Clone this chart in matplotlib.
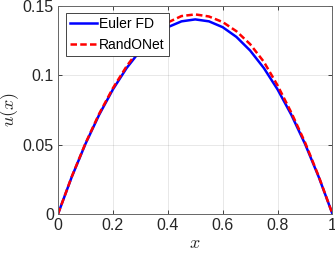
import matplotlib
matplotlib.use("Agg")
from matplotlib import pyplot as plt

# values
x = [0.0, 0.05, 0.1, 0.15, 0.2, 0.25, 0.3, 0.35, 0.4, 0.45, 0.5,
     0.55, 0.6, 0.65, 0.7, 0.75, 0.8, 0.85, 0.9, 0.95, 1.0]
u_euler = [0.0, 0.0266, 0.0504, 0.0714, 0.0896, 0.1050, 0.1176, 0.1274, 0.1344, 0.1386, 0.1400,
           0.1386, 0.1344, 0.1274, 0.1176, 0.1050, 0.0896, 0.0714, 0.0504, 0.0266, 0.0]
u_rand = [0.0, 0.0268, 0.0508, 0.0721, 0.0905, 0.1063, 0.1195, 0.1300, 0.1378, 0.1424, 0.1436,
          0.1421, 0.1381, 0.1315, 0.1222, 0.1095, 0.0925, 0.0730, 0.0515, 0.0270, 0.0]

plt.rcParams['font.family'] = ['Liberation Sans', 'DejaVu Sans']
plt.rcParams['mathtext.fontset'] = 'cm'

fig = plt.figure(figsize=(3.35, 2.56), dpi=100)
ax = fig.add_axes([0.1731, 0.164, 0.8194, 0.8145])

ax.plot(x, u_euler, color=(0, 0, 1), lw=1.8, label='Euler FD')
ax.plot(x, u_rand, color=(1, 0, 0), lw=1.8, ls=(0, (2.6, 1.3)), label='RandONet')

ax.set_xlim(0, 1)
ax.set_ylim(0, 0.15)
ax.set_xticks([0, 0.2, 0.4, 0.6, 0.8, 1])
ax.set_xticklabels(['0', '0.2', '0.4', '0.6', '0.8', '1'])
ax.set_yticks([0, 0.05, 0.1, 0.15])
ax.set_yticklabels(['0', '0.05', '0.1', '0.15'])

gray = (0.15, 0.15, 0.15)
ax.grid(True, color=(0.15, 0.15, 0.15), alpha=0.12, lw=0.6)
ax.tick_params(direction='in', top=True, right=True, length=3, width=0.6,
               colors=gray, labelsize=11.5, pad=3)
for s in ax.spines.values():
    s.set_color((0.4, 0.4, 0.4))
    s.set_linewidth(0.7)

ax.set_xlabel('$x$', fontsize=13, color=gray, labelpad=1)
ax.set_ylabel('$u(x)$', fontsize=13, color=gray, labelpad=1)

leg = ax.legend(loc='upper left', fontsize=10, frameon=True, fancybox=False,
                framealpha=1, edgecolor=gray, handlelength=1.95, handletextpad=0.15,
                borderpad=0.3, labelspacing=0.45, borderaxespad=0.55)
leg.get_frame().set_linewidth(0.6)

fig.savefig('out.png', dpi=100)
